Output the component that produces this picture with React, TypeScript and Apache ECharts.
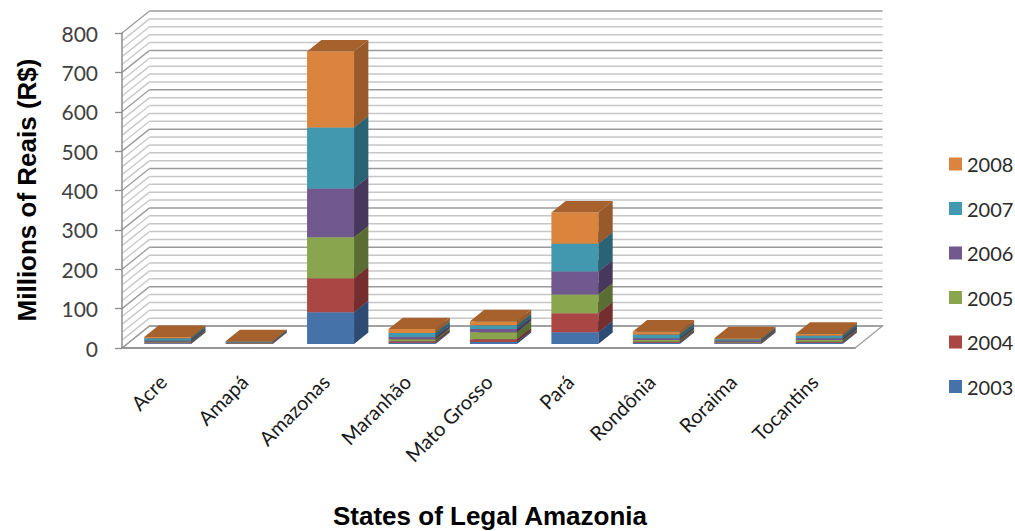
import React, { useEffect, useRef } from "react";
import * as echarts from "echarts";

// ---- data ----
const states = ["Acre", "Amapá", "Amazonas", "Maranhão", "Mato Grosso", "Pará", "Rondônia", "Roraima", "Tocantins"];
const years = ["2003", "2004", "2005", "2006", "2007", "2008"];
const v2003 = [2, 1, 81, 3, 5, 30, 3, 2, 3];
const v2004 = [2, 1, 86, 4, 7, 48, 3, 2, 3];
const v2005 = [2, 1, 104, 5, 18, 48, 4, 2, 4];
const v2006 = [3, 1, 124, 6, 8, 58, 5, 3, 5];
const v2007 = [6, 2, 155, 10, 10, 71, 9, 3, 6];
const v2008 = [3, 1, 193, 10, 10, 79, 8, 3, 5];
const yearValues = [v2003, v2004, v2005, v2006, v2007, v2008];
const yMin = 0;
const yMax = 800;
const yMajor = 100;
const yMinor = 20;

// ---- styles ----
const frontColors = ["#4672AA", "#AA4644", "#89A54E", "#71588F", "#4198AF", "#DB843D"];
const sideColors = ["#2E4B74", "#742E2D", "#5A6D33", "#47375C", "#2A6373", "#98592B"];
const topColors = ["#3A5E8E", "#8E3A38", "#738A40", "#5E4978", "#367F92", "#A6612C"];

export default function App() {
  const ref = useRef<HTMLDivElement>(null);
  useEffect(() => {
    document.body.style.margin = "0";
    const chart = echarts.init(ref.current as HTMLDivElement, null, { renderer: "svg" });
    const D = [27.5, -22];
    const FRONT = 0.18;
    const DEPTH = 0.52;
    const BARW = 0.577;

    const gridVals: number[] = [];
    for (let v = yMin; v <= yMax; v += yMinor) gridVals.push(v);

    const walls = {
      type: "custom",
      name: "walls",
      coordinateSystem: "cartesian2d",
      silent: true,
      z: 1,
      data: [[0, 0]],
      encode: { x: 0, y: 1 },
      renderItem: (params: any, api: any) => {
        const cs = params.coordSys;
        const L = cs.x;
        const R = cs.x + cs.width;
        const y0 = api.coord([0, yMin])[1];
        const children: any[] = [];
        children.push({
          type: "polygon",
          shape: { points: [[L, y0], [R, y0], [R + D[0], y0 + D[1]], [L + D[0], y0 + D[1]]] },
          style: { fill: "#ffffff", stroke: "#a0a0a0", lineWidth: 1.3 },
        });
        gridVals.forEach((v) => {
          const y = api.coord([0, v])[1];
          const major = v % yMajor === 0;
          const stroke = major ? "#9a9a9a" : "#c6c6c6";
          children.push({
            type: "line",
            shape: { x1: L + D[0], y1: y + D[1], x2: R + D[0], y2: y + D[1] },
            style: { stroke, lineWidth: 1.5 },
          });
          children.push({
            type: "line",
            shape: { x1: L, y1: y, x2: L + D[0], y2: y + D[1] },
            style: { stroke, lineWidth: 1.3 },
          });
        });
        return { type: "group", children };
      },
    };

    const bases = states.map(() => 0);
    const barSeries = years.map((yr, k) => {
      const data = states.map((_, i) => {
        const b = bases[i];
        bases[i] += yearValues[k][i];
        return [i, b, yearValues[k][i]];
      });
      return {
        type: "custom",
        name: yr,
        coordinateSystem: "cartesian2d",
        z: 3,
        itemStyle: { color: frontColors[k] },
        encode: { x: 0, y: 1 },
        data,
        renderItem: (params: any, api: any) => {
          const i = api.value(0);
          const b = api.value(1);
          const v = api.value(2);
          const p0 = api.coord([i, b]);
          const p1 = api.coord([i, b + v]);
          const band = api.size([1, 0])[0];
          const w = band * BARW;
          const ox = D[0] * FRONT;
          const oy = D[1] * FRONT;
          const dx = D[0] * DEPTH;
          const dy = D[1] * DEPTH;
          const x0 = p0[0] - w / 2 + ox;
          const x1 = x0 + w;
          const yb = p0[1] + oy;
          const yt = p1[1] + oy;
          return {
            type: "group",
            children: [
              { type: "polygon", shape: { points: [[x0, yb], [x1, yb], [x1, yt], [x0, yt]] }, style: { fill: frontColors[k] } },
              { type: "polygon", shape: { points: [[x1, yb], [x1 + dx, yb + dy], [x1 + dx, yt + dy], [x1, yt]] }, style: { fill: sideColors[k] } },
              { type: "polygon", shape: { points: [[x0, yt], [x1, yt], [x1 + dx, yt + dy], [x0 + dx, yt + dy]] }, style: { fill: topColors[k] } },
            ],
          };
        },
      };
    });

    chart.setOption({
      animation: false,
      grid: { left: 122, right: 160, top: 33, bottom: 183, containLabel: false },
      legend: {
        orient: "vertical",
        left: 944,
        top: 149,
        data: years.slice().reverse(),
        icon: "rect",
        itemWidth: 13,
        itemHeight: 13,
        itemGap: 24.5,
        textStyle: { fontFamily: "Lato", fontSize: 20, color: "#2a2a2a", lineHeight: 20 },
      },
      xAxis: {
        type: "category",
        data: states,
        z: 5,
        axisLine: { show: true, lineStyle: { color: "#8c8c8c", width: 1.5 } },
        axisTick: { show: false },
        axisLabel: { interval: 0, rotate: 45, margin: 30, fontFamily: "Lato", fontSize: 20, color: "#1a1a1a" },
        splitLine: { show: false },
      },
      yAxis: {
        type: "value",
        min: yMin,
        max: yMax,
        interval: yMajor,
        z: 5,
        axisLine: { show: true, lineStyle: { color: "#8c8c8c", width: 1.5 } },
        axisTick: { show: true, length: 7, lineStyle: { color: "#8c8c8c", width: 1.3 } },
        axisLabel: { margin: 24, fontFamily: "Lato", fontSize: 21, color: "#404040" },
        splitLine: { show: false },
      },
      graphic: [
        {
          type: "text",
          x: 27,
          y: 190,
          rotation: Math.PI / 2,
          style: {
            text: "Millions of Reais (R$)",
            fontFamily: "Liberation Sans",
            fontWeight: "bold",
            fontSize: 26,
            fill: "#000000",
            align: "center",
            verticalAlign: "middle",
          },
        },
        {
          type: "text",
          x: 490,
          y: 516,
          style: {
            text: "States of Legal Amazonia",
            fontFamily: "Liberation Sans",
            fontWeight: "bold",
            fontSize: 26,
            fill: "#000000",
            align: "center",
            verticalAlign: "middle",
          },
        },
      ],
      series: [walls, ...barSeries],
    });
    return () => chart.dispose();
  }, []);
  return <div ref={ref} style={{ width: 1015, height: 531 }} />;
}
